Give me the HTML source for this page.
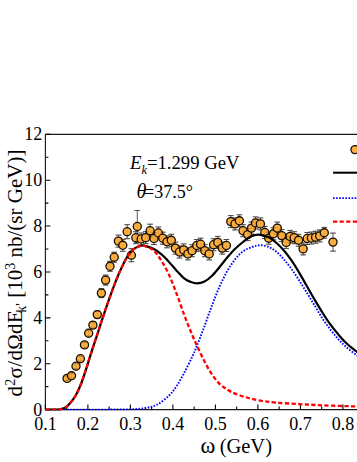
<!DOCTYPE html>
<html><head><meta charset="utf-8"><title>chart</title>
<style>
html,body{margin:0;padding:0;background:#fff;}
body{width:357px;height:462px;overflow:hidden;font-family:"Liberation Serif",serif;}
svg{display:block;}
</style></head><body>
<svg width="357" height="462" viewBox="0 0 357 462">
<rect width="357" height="462" fill="#fff"/>
<path d="M45.4,134.3 V409.6 H357" fill="none" stroke="#1a1a1a" stroke-width="1.15"/>
<path d="M45.4,134.3 H357" fill="none" stroke="#1a1a1a" stroke-width="1.15"/>
<path d="M45.40,409.6 v-5 M66.65,409.6 v-3 M87.90,409.6 v-5 M109.15,409.6 v-3 M130.40,409.6 v-5 M151.65,409.6 v-3 M172.90,409.6 v-5 M194.15,409.6 v-3 M215.40,409.6 v-5 M236.65,409.6 v-3 M257.90,409.6 v-5 M279.15,409.6 v-3 M300.40,409.6 v-5 M321.65,409.6 v-3 M342.90,409.6 v-5 M45.4,409.60 h5 M45.4,386.66 h3 M45.4,363.72 h5 M45.4,340.78 h3 M45.4,317.83 h5 M45.4,294.89 h3 M45.4,271.95 h5 M45.4,249.01 h3 M45.4,226.07 h5 M45.4,203.13 h3 M45.4,180.18 h5 M45.4,157.24 h3 M45.4,134.30 h5" stroke="#000" stroke-width="1.1" fill="none"/>
<path d="M67.1,376.2 V380.6 M64.3,376.2 h5.6 M64.3,380.6 h5.6 M71.5,373.6 V378.0 M68.7,373.6 h5.6 M68.7,378.0 h5.6 M76.0,363.8 V368.6 M73.2,363.8 h5.6 M73.2,368.6 h5.6 M80.4,356.3 V361.1 M77.6,356.3 h5.6 M77.6,361.1 h5.6 M84.5,342.3 V347.5 M81.7,342.3 h5.6 M81.7,347.5 h5.6 M88.7,330.4 V336.0 M85.9,330.4 h5.6 M85.9,336.0 h5.6 M92.9,322.1 V328.1 M90.1,322.1 h5.6 M90.1,328.1 h5.6 M97.3,311.1 V318.1 M94.5,311.1 h5.6 M94.5,318.1 h5.6 M101.4,288.6 V297.6 M98.6,288.6 h5.6 M98.6,297.6 h5.6 M105.6,275.1 V285.1 M102.8,275.1 h5.6 M102.8,285.1 h5.6 M110.0,261.3 V271.3 M107.2,261.3 h5.6 M107.2,271.3 h5.6 M114.2,252.2 V262.2 M111.4,252.2 h5.6 M111.4,262.2 h5.6 M118.4,235.1 V247.1 M115.6,235.1 h5.6 M115.6,247.1 h5.6 M122.8,239.3 V251.3 M120.0,239.3 h5.6 M120.0,251.3 h5.6 M127.2,224.7 V238.7 M124.4,224.7 h5.6 M124.4,238.7 h5.6 M131.4,248.7 V261.7 M128.6,248.7 h5.6 M128.6,261.7 h5.6 M135.8,231.7 V243.7 M133.0,231.7 h5.6 M133.0,243.7 h5.6 M137.3,210.5 V242.5 M134.5,210.5 h5.6 M134.5,242.5 h5.6 M141.2,233.0 V245.0 M138.4,233.0 h5.6 M138.4,245.0 h5.6 M145.7,231.7 V243.7 M142.9,231.7 h5.6 M142.9,243.7 h5.6 M150.1,224.2 V237.2 M147.3,224.2 h5.6 M147.3,237.2 h5.6 M154.0,232.5 V244.5 M151.2,232.5 h5.6 M151.2,244.5 h5.6 M158.4,227.0 V239.0 M155.6,227.0 h5.6 M155.6,239.0 h5.6 M162.8,232.2 V244.2 M160.0,232.2 h5.6 M160.0,244.2 h5.6 M167.0,235.8 V247.8 M164.2,235.8 h5.6 M164.2,247.8 h5.6 M171.3,234.3 V246.3 M168.5,234.3 h5.6 M168.5,246.3 h5.6 M175.4,242.1 V254.1 M172.6,242.1 h5.6 M172.6,254.1 h5.6 M179.5,246.0 V258.0 M176.7,246.0 h5.6 M176.7,258.0 h5.6 M183.7,243.9 V255.9 M180.9,243.9 h5.6 M180.9,255.9 h5.6 M187.9,247.9 V259.9 M185.1,247.9 h5.6 M185.1,259.9 h5.6 M192.1,244.7 V256.7 M189.3,244.7 h5.6 M189.3,256.7 h5.6 M196.7,239.5 V251.5 M193.9,239.5 h5.6 M193.9,251.5 h5.6 M200.6,238.2 V250.2 M197.8,238.2 h5.6 M197.8,250.2 h5.6 M204.8,244.7 V256.7 M202.0,244.7 h5.6 M202.0,256.7 h5.6 M209.2,247.9 V259.9 M206.4,247.9 h5.6 M206.4,259.9 h5.6 M213.6,238.7 V250.7 M210.8,238.7 h5.6 M210.8,250.7 h5.6 M217.8,236.4 V248.4 M215.0,236.4 h5.6 M215.0,248.4 h5.6 M222.2,242.1 V254.1 M219.4,242.1 h5.6 M219.4,254.1 h5.6 M226.4,239.5 V251.5 M223.6,239.5 h5.6 M223.6,251.5 h5.6 M230.8,215.6 V227.6 M228.0,215.6 h5.6 M228.0,227.6 h5.6 M235.0,217.9 V229.9 M232.2,217.9 h5.6 M232.2,229.9 h5.6 M239.4,214.8 V226.8 M236.6,214.8 h5.6 M236.6,226.8 h5.6 M243.0,224.7 V236.7 M240.2,224.7 h5.6 M240.2,236.7 h5.6 M247.7,228.6 V240.6 M244.9,228.6 h5.6 M244.9,240.6 h5.6 M251.5,222.1 V234.1 M248.7,222.1 h5.6 M248.7,234.1 h5.6 M255.6,216.9 V228.9 M252.8,216.9 h5.6 M252.8,228.9 h5.6 M260.4,217.9 V229.9 M257.6,217.9 h5.6 M257.6,229.9 h5.6 M264.8,226.5 V238.5 M262.0,226.5 h5.6 M262.0,238.5 h5.6 M268.7,232.2 V244.2 M265.9,232.2 h5.6 M265.9,244.2 h5.6 M273.4,227.8 V239.8 M270.6,227.8 h5.6 M270.6,239.8 h5.6 M277.3,222.1 V234.1 M274.5,222.1 h5.6 M274.5,234.1 h5.6 M281.7,229.6 V241.6 M278.9,229.6 h5.6 M278.9,241.6 h5.6 M286.2,236.4 V248.4 M283.4,236.4 h5.6 M283.4,248.4 h5.6 M290.1,230.4 V242.4 M287.3,230.4 h5.6 M287.3,242.4 h5.6 M294.2,231.7 V243.7 M291.4,231.7 h5.6 M291.4,243.7 h5.6 M298.6,234.3 V246.3 M295.8,234.3 h5.6 M295.8,246.3 h5.6 M303.1,242.9 V254.9 M300.3,242.9 h5.6 M300.3,254.9 h5.6 M307.2,232.5 V244.5 M304.4,232.5 h5.6 M304.4,244.5 h5.6 M311.4,232.0 V244.0 M308.6,232.0 h5.6 M308.6,244.0 h5.6 M315.6,231.2 V243.2 M312.8,231.2 h5.6 M312.8,243.2 h5.6 M319.7,229.9 V241.9 M316.9,229.9 h5.6 M316.9,241.9 h5.6 M324.3,227.4 V238.2 M321.5,227.4 h5.6 M321.5,238.2 h5.6 M333.0,233.1 V251.1 M330.2,233.1 h5.6 M330.2,251.1 h5.6" stroke="#222" stroke-width="0.7" fill="none"/>
<circle cx="67.1" cy="378.4" r="4.05" fill="#fbb040" stroke="#150c00" stroke-width="1.3"/>
<circle cx="71.5" cy="375.8" r="4.05" fill="#fbb040" stroke="#150c00" stroke-width="1.3"/>
<circle cx="76.0" cy="366.2" r="4.05" fill="#fbb040" stroke="#150c00" stroke-width="1.3"/>
<circle cx="80.4" cy="358.7" r="4.05" fill="#fbb040" stroke="#150c00" stroke-width="1.3"/>
<circle cx="84.5" cy="344.9" r="4.05" fill="#fbb040" stroke="#150c00" stroke-width="1.3"/>
<circle cx="88.7" cy="333.2" r="4.05" fill="#fbb040" stroke="#150c00" stroke-width="1.3"/>
<circle cx="92.9" cy="325.1" r="4.05" fill="#fbb040" stroke="#150c00" stroke-width="1.3"/>
<circle cx="97.3" cy="314.6" r="4.05" fill="#fbb040" stroke="#150c00" stroke-width="1.3"/>
<circle cx="101.4" cy="293.1" r="4.05" fill="#fbb040" stroke="#150c00" stroke-width="1.3"/>
<circle cx="105.6" cy="280.1" r="4.05" fill="#fbb040" stroke="#150c00" stroke-width="1.3"/>
<circle cx="110.0" cy="266.3" r="4.05" fill="#fbb040" stroke="#150c00" stroke-width="1.3"/>
<circle cx="114.2" cy="257.2" r="4.05" fill="#fbb040" stroke="#150c00" stroke-width="1.3"/>
<circle cx="118.4" cy="241.1" r="4.05" fill="#fbb040" stroke="#150c00" stroke-width="1.3"/>
<circle cx="122.8" cy="245.3" r="4.05" fill="#fbb040" stroke="#150c00" stroke-width="1.3"/>
<circle cx="127.2" cy="231.7" r="4.05" fill="#fbb040" stroke="#150c00" stroke-width="1.3"/>
<circle cx="131.4" cy="255.2" r="4.05" fill="#fbb040" stroke="#150c00" stroke-width="1.3"/>
<circle cx="135.8" cy="237.7" r="4.05" fill="#fbb040" stroke="#150c00" stroke-width="1.3"/>
<circle cx="137.3" cy="226.5" r="4.05" fill="#fbb040" stroke="#150c00" stroke-width="1.3"/>
<circle cx="141.2" cy="239.0" r="4.05" fill="#fbb040" stroke="#150c00" stroke-width="1.3"/>
<circle cx="145.7" cy="237.7" r="4.05" fill="#fbb040" stroke="#150c00" stroke-width="1.3"/>
<circle cx="150.1" cy="230.7" r="4.05" fill="#fbb040" stroke="#150c00" stroke-width="1.3"/>
<circle cx="154.0" cy="238.5" r="4.05" fill="#fbb040" stroke="#150c00" stroke-width="1.3"/>
<circle cx="158.4" cy="233.0" r="4.05" fill="#fbb040" stroke="#150c00" stroke-width="1.3"/>
<circle cx="162.8" cy="238.2" r="4.05" fill="#fbb040" stroke="#150c00" stroke-width="1.3"/>
<circle cx="167.0" cy="241.8" r="4.05" fill="#fbb040" stroke="#150c00" stroke-width="1.3"/>
<circle cx="171.3" cy="240.3" r="4.05" fill="#fbb040" stroke="#150c00" stroke-width="1.3"/>
<circle cx="175.4" cy="248.1" r="4.05" fill="#fbb040" stroke="#150c00" stroke-width="1.3"/>
<circle cx="179.5" cy="252.0" r="4.05" fill="#fbb040" stroke="#150c00" stroke-width="1.3"/>
<circle cx="183.7" cy="249.9" r="4.05" fill="#fbb040" stroke="#150c00" stroke-width="1.3"/>
<circle cx="187.9" cy="253.9" r="4.05" fill="#fbb040" stroke="#150c00" stroke-width="1.3"/>
<circle cx="192.1" cy="250.7" r="4.05" fill="#fbb040" stroke="#150c00" stroke-width="1.3"/>
<circle cx="196.7" cy="245.5" r="4.05" fill="#fbb040" stroke="#150c00" stroke-width="1.3"/>
<circle cx="200.6" cy="244.2" r="4.05" fill="#fbb040" stroke="#150c00" stroke-width="1.3"/>
<circle cx="204.8" cy="250.7" r="4.05" fill="#fbb040" stroke="#150c00" stroke-width="1.3"/>
<circle cx="209.2" cy="253.9" r="4.05" fill="#fbb040" stroke="#150c00" stroke-width="1.3"/>
<circle cx="213.6" cy="244.7" r="4.05" fill="#fbb040" stroke="#150c00" stroke-width="1.3"/>
<circle cx="217.8" cy="242.4" r="4.05" fill="#fbb040" stroke="#150c00" stroke-width="1.3"/>
<circle cx="222.2" cy="248.1" r="4.05" fill="#fbb040" stroke="#150c00" stroke-width="1.3"/>
<circle cx="226.4" cy="245.5" r="4.05" fill="#fbb040" stroke="#150c00" stroke-width="1.3"/>
<circle cx="230.8" cy="221.6" r="4.05" fill="#fbb040" stroke="#150c00" stroke-width="1.3"/>
<circle cx="235.0" cy="223.9" r="4.05" fill="#fbb040" stroke="#150c00" stroke-width="1.3"/>
<circle cx="239.4" cy="220.8" r="4.05" fill="#fbb040" stroke="#150c00" stroke-width="1.3"/>
<circle cx="243.0" cy="230.7" r="4.05" fill="#fbb040" stroke="#150c00" stroke-width="1.3"/>
<circle cx="247.7" cy="234.6" r="4.05" fill="#fbb040" stroke="#150c00" stroke-width="1.3"/>
<circle cx="251.5" cy="228.1" r="4.05" fill="#fbb040" stroke="#150c00" stroke-width="1.3"/>
<circle cx="255.6" cy="222.9" r="4.05" fill="#fbb040" stroke="#150c00" stroke-width="1.3"/>
<circle cx="260.4" cy="223.9" r="4.05" fill="#fbb040" stroke="#150c00" stroke-width="1.3"/>
<circle cx="264.8" cy="232.5" r="4.05" fill="#fbb040" stroke="#150c00" stroke-width="1.3"/>
<circle cx="268.7" cy="238.2" r="4.05" fill="#fbb040" stroke="#150c00" stroke-width="1.3"/>
<circle cx="273.4" cy="233.8" r="4.05" fill="#fbb040" stroke="#150c00" stroke-width="1.3"/>
<circle cx="277.3" cy="228.1" r="4.05" fill="#fbb040" stroke="#150c00" stroke-width="1.3"/>
<circle cx="281.7" cy="235.6" r="4.05" fill="#fbb040" stroke="#150c00" stroke-width="1.3"/>
<circle cx="286.2" cy="242.4" r="4.05" fill="#fbb040" stroke="#150c00" stroke-width="1.3"/>
<circle cx="290.1" cy="236.4" r="4.05" fill="#fbb040" stroke="#150c00" stroke-width="1.3"/>
<circle cx="294.2" cy="237.7" r="4.05" fill="#fbb040" stroke="#150c00" stroke-width="1.3"/>
<circle cx="298.6" cy="240.3" r="4.05" fill="#fbb040" stroke="#150c00" stroke-width="1.3"/>
<circle cx="303.1" cy="248.9" r="4.05" fill="#fbb040" stroke="#150c00" stroke-width="1.3"/>
<circle cx="307.2" cy="238.5" r="4.05" fill="#fbb040" stroke="#150c00" stroke-width="1.3"/>
<circle cx="311.4" cy="238.0" r="4.05" fill="#fbb040" stroke="#150c00" stroke-width="1.3"/>
<circle cx="315.6" cy="237.2" r="4.05" fill="#fbb040" stroke="#150c00" stroke-width="1.3"/>
<circle cx="319.7" cy="235.9" r="4.05" fill="#fbb040" stroke="#150c00" stroke-width="1.3"/>
<circle cx="324.3" cy="232.8" r="4.05" fill="#fbb040" stroke="#150c00" stroke-width="1.3"/>
<circle cx="333.0" cy="242.1" r="4.05" fill="#fbb040" stroke="#150c00" stroke-width="1.3"/>
<path d="M64.3,376.2 h5.6 M64.3,380.6 h5.6 M68.7,373.6 h5.6 M68.7,378.0 h5.6 M73.2,363.8 h5.6 M73.2,368.6 h5.6 M77.6,356.3 h5.6 M77.6,361.1 h5.6 M81.7,342.3 h5.6 M81.7,347.5 h5.6 M85.9,330.4 h5.6 M85.9,336.0 h5.6 M90.1,322.1 h5.6 M90.1,328.1 h5.6 M94.5,311.1 h5.6 M94.5,318.1 h5.6 M98.6,288.6 h5.6 M98.6,297.6 h5.6 M102.8,275.1 h5.6 M102.8,285.1 h5.6 M107.2,261.3 h5.6 M107.2,271.3 h5.6 M111.4,252.2 h5.6 M111.4,262.2 h5.6 M115.6,235.1 h5.6 M115.6,247.1 h5.6 M120.0,239.3 h5.6 M120.0,251.3 h5.6 M124.4,224.7 h5.6 M124.4,238.7 h5.6 M128.6,248.7 h5.6 M128.6,261.7 h5.6 M133.0,231.7 h5.6 M133.0,243.7 h5.6 M134.5,210.5 h5.6 M134.5,242.5 h5.6 M138.4,233.0 h5.6 M138.4,245.0 h5.6 M142.9,231.7 h5.6 M142.9,243.7 h5.6 M147.3,224.2 h5.6 M147.3,237.2 h5.6 M151.2,232.5 h5.6 M151.2,244.5 h5.6 M155.6,227.0 h5.6 M155.6,239.0 h5.6 M160.0,232.2 h5.6 M160.0,244.2 h5.6 M164.2,235.8 h5.6 M164.2,247.8 h5.6 M168.5,234.3 h5.6 M168.5,246.3 h5.6 M172.6,242.1 h5.6 M172.6,254.1 h5.6 M176.7,246.0 h5.6 M176.7,258.0 h5.6 M180.9,243.9 h5.6 M180.9,255.9 h5.6 M185.1,247.9 h5.6 M185.1,259.9 h5.6 M189.3,244.7 h5.6 M189.3,256.7 h5.6 M193.9,239.5 h5.6 M193.9,251.5 h5.6 M197.8,238.2 h5.6 M197.8,250.2 h5.6 M202.0,244.7 h5.6 M202.0,256.7 h5.6 M206.4,247.9 h5.6 M206.4,259.9 h5.6 M210.8,238.7 h5.6 M210.8,250.7 h5.6 M215.0,236.4 h5.6 M215.0,248.4 h5.6 M219.4,242.1 h5.6 M219.4,254.1 h5.6 M223.6,239.5 h5.6 M223.6,251.5 h5.6 M228.0,215.6 h5.6 M228.0,227.6 h5.6 M232.2,217.9 h5.6 M232.2,229.9 h5.6 M236.6,214.8 h5.6 M236.6,226.8 h5.6 M240.2,224.7 h5.6 M240.2,236.7 h5.6 M244.9,228.6 h5.6 M244.9,240.6 h5.6 M248.7,222.1 h5.6 M248.7,234.1 h5.6 M252.8,216.9 h5.6 M252.8,228.9 h5.6 M257.6,217.9 h5.6 M257.6,229.9 h5.6 M262.0,226.5 h5.6 M262.0,238.5 h5.6 M265.9,232.2 h5.6 M265.9,244.2 h5.6 M270.6,227.8 h5.6 M270.6,239.8 h5.6 M274.5,222.1 h5.6 M274.5,234.1 h5.6 M278.9,229.6 h5.6 M278.9,241.6 h5.6 M283.4,236.4 h5.6 M283.4,248.4 h5.6 M287.3,230.4 h5.6 M287.3,242.4 h5.6 M291.4,231.7 h5.6 M291.4,243.7 h5.6 M295.8,234.3 h5.6 M295.8,246.3 h5.6 M300.3,242.9 h5.6 M300.3,254.9 h5.6 M304.4,232.5 h5.6 M304.4,244.5 h5.6 M308.6,232.0 h5.6 M308.6,244.0 h5.6 M312.8,231.2 h5.6 M312.8,243.2 h5.6 M316.9,229.9 h5.6 M316.9,241.9 h5.6 M321.5,227.4 h5.6 M321.5,238.2 h5.6 M330.2,233.1 h5.6 M330.2,251.1 h5.6" stroke="#3a2000" stroke-width="0.6" stroke-opacity="0.55" fill="none"/>
<path d="M67.1,376.2 V380.6 M71.5,373.6 V378.0 M76.0,363.8 V368.6 M80.4,356.3 V361.1 M84.5,342.3 V347.5 M88.7,330.4 V336.0 M92.9,322.1 V328.1 M97.3,311.1 V318.1 M101.4,288.6 V297.6 M105.6,275.1 V285.1 M110.0,261.3 V271.3 M114.2,252.2 V262.2 M118.4,235.1 V247.1 M122.8,239.3 V251.3 M127.2,224.7 V238.7 M131.4,248.7 V261.7 M135.8,231.7 V243.7 M137.3,210.5 V242.5 M141.2,233.0 V245.0 M145.7,231.7 V243.7 M150.1,224.2 V237.2 M154.0,232.5 V244.5 M158.4,227.0 V239.0 M162.8,232.2 V244.2 M167.0,235.8 V247.8 M171.3,234.3 V246.3 M175.4,242.1 V254.1 M179.5,246.0 V258.0 M183.7,243.9 V255.9 M187.9,247.9 V259.9 M192.1,244.7 V256.7 M196.7,239.5 V251.5 M200.6,238.2 V250.2 M204.8,244.7 V256.7 M209.2,247.9 V259.9 M213.6,238.7 V250.7 M217.8,236.4 V248.4 M222.2,242.1 V254.1 M226.4,239.5 V251.5 M230.8,215.6 V227.6 M235.0,217.9 V229.9 M239.4,214.8 V226.8 M243.0,224.7 V236.7 M247.7,228.6 V240.6 M251.5,222.1 V234.1 M255.6,216.9 V228.9 M260.4,217.9 V229.9 M264.8,226.5 V238.5 M268.7,232.2 V244.2 M273.4,227.8 V239.8 M277.3,222.1 V234.1 M281.7,229.6 V241.6 M286.2,236.4 V248.4 M290.1,230.4 V242.4 M294.2,231.7 V243.7 M298.6,234.3 V246.3 M303.1,242.9 V254.9 M307.2,232.5 V244.5 M311.4,232.0 V244.0 M315.6,231.2 V243.2 M319.7,229.9 V241.9 M324.3,227.4 V238.2 M333.0,233.1 V251.1" stroke="#3a2000" stroke-width="0.5" stroke-opacity="0.18" fill="none"/>
<defs><clipPath id="cp"><rect x="44.8" y="133.6" width="320" height="276.8"/></clipPath></defs><g clip-path="url(#cp)">
<path d="M45.40,409.60 C54.50,409.60 85.90,409.65 100.00,409.60 C114.10,409.55 122.40,409.57 130.00,409.30 C137.60,409.03 141.05,408.80 145.60,408.00 C150.15,407.20 153.40,406.57 157.30,404.50 C161.20,402.43 165.75,398.72 169.00,395.60 C172.25,392.48 174.22,389.70 176.80,385.80 C179.38,381.90 181.92,377.07 184.50,372.20 C187.08,367.33 190.22,361.02 192.30,356.60 C194.38,352.18 195.05,350.57 197.00,345.70 C198.95,340.83 201.53,334.02 204.00,327.40 C206.47,320.78 209.20,312.82 211.80,306.00 C214.40,299.18 217.00,292.35 219.60,286.50 C222.20,280.65 224.80,275.45 227.40,270.90 C230.00,266.35 232.60,262.45 235.20,259.20 C237.80,255.95 240.10,253.47 243.00,251.40 C245.90,249.33 249.70,247.83 252.60,246.80 C255.50,245.77 257.80,245.20 260.40,245.20 C263.00,245.20 265.60,245.77 268.20,246.80 C270.80,247.83 273.42,249.33 276.00,251.40 C278.58,253.47 281.12,256.27 283.70,259.20 C286.28,262.13 288.90,265.43 291.50,269.00 C294.10,272.57 296.70,276.58 299.30,280.60 C301.90,284.62 304.50,288.87 307.10,293.10 C309.70,297.33 312.30,301.72 314.90,306.00 C317.50,310.28 320.10,314.85 322.70,318.80 C325.30,322.75 327.90,326.32 330.50,329.70 C333.10,333.08 335.70,336.23 338.30,339.10 C340.90,341.97 342.98,344.18 346.10,346.90 C349.22,349.62 353.85,353.05 357.00,355.40 C360.15,357.75 363.67,360.07 365.00,361.00" fill="none" stroke="#0000ff" stroke-width="1.9" stroke-dasharray="1.6 1.5"/>
<path d="M45.40,409.60 C47.00,409.60 52.53,409.65 55.00,409.60 C57.47,409.55 58.45,409.67 60.20,409.30 C61.95,408.93 63.78,408.48 65.50,407.40 C67.22,406.32 68.78,404.82 70.50,402.80 C72.22,400.78 74.05,398.43 75.80,395.30 C77.55,392.17 79.27,388.42 81.00,384.00 C82.73,379.58 84.62,373.62 86.20,368.80 C87.78,363.98 89.03,359.68 90.50,355.10 C91.97,350.52 93.70,345.23 95.00,341.30 C96.30,337.37 97.27,334.67 98.30,331.50 C99.33,328.33 99.80,326.53 101.20,322.30 C102.60,318.07 104.88,311.33 106.70,306.10 C108.52,300.87 110.30,295.78 112.10,290.90 C113.90,286.02 115.70,281.13 117.50,276.80 C119.30,272.47 121.10,268.50 122.90,264.90 C124.70,261.30 126.50,257.83 128.30,255.20 C130.10,252.57 131.90,250.58 133.70,249.10 C135.50,247.62 137.47,246.88 139.10,246.30 C140.73,245.72 141.12,245.20 143.50,245.60 C145.88,246.00 150.45,247.27 153.40,248.70 C156.35,250.13 158.60,252.00 161.20,254.20 C163.80,256.40 166.40,259.12 169.00,261.90 C171.60,264.68 174.22,268.10 176.80,270.90 C179.38,273.70 182.23,276.88 184.50,278.70 C186.77,280.52 188.32,281.02 190.40,281.80 C192.48,282.58 194.73,283.40 197.00,283.40 C199.27,283.40 201.53,283.03 204.00,281.80 C206.47,280.57 209.20,278.47 211.80,276.00 C214.40,273.53 217.00,270.12 219.60,267.00 C222.20,263.88 224.80,260.35 227.40,257.30 C230.00,254.25 232.60,251.25 235.20,248.70 C237.80,246.15 240.43,244.02 243.00,242.00 C245.57,239.98 248.03,237.83 250.60,236.60 C253.17,235.37 255.47,234.53 258.40,234.60 C261.33,234.67 265.27,235.68 268.20,237.00 C271.13,238.32 273.42,240.28 276.00,242.50 C278.58,244.72 281.12,247.32 283.70,250.30 C286.28,253.28 288.90,256.63 291.50,260.40 C294.10,264.17 296.70,268.55 299.30,272.90 C301.90,277.25 304.50,281.97 307.10,286.50 C309.70,291.03 312.30,295.68 314.90,300.10 C317.50,304.52 320.10,308.90 322.70,313.00 C325.30,317.10 327.90,321.13 330.50,324.70 C333.10,328.27 335.70,331.35 338.30,334.40 C340.90,337.45 342.98,340.08 346.10,343.00 C349.22,345.92 353.85,349.40 357.00,351.90 C360.15,354.40 363.67,356.98 365.00,358.00" fill="none" stroke="#000" stroke-width="2.2"/>
<path d="M45.40,409.60 C47.00,409.60 52.53,409.65 55.00,409.60 C57.47,409.55 58.45,409.67 60.20,409.30 C61.95,408.93 63.78,408.48 65.50,407.40 C67.22,406.32 68.78,404.82 70.50,402.80 C72.22,400.78 74.05,398.43 75.80,395.30 C77.55,392.17 79.27,388.42 81.00,384.00 C82.73,379.58 84.62,373.62 86.20,368.80 C87.78,363.98 89.03,359.68 90.50,355.10 C91.97,350.52 93.70,345.23 95.00,341.30 C96.30,337.37 97.27,334.67 98.30,331.50 C99.33,328.33 99.80,326.53 101.20,322.30 C102.60,318.07 104.88,311.33 106.70,306.10 C108.52,300.87 110.30,295.78 112.10,290.90 C113.90,286.02 115.70,281.13 117.50,276.80 C119.30,272.47 121.10,268.50 122.90,264.90 C124.70,261.30 126.50,257.83 128.30,255.20 C130.10,252.57 131.90,250.58 133.70,249.10 C135.50,247.62 137.47,246.88 139.10,246.30 C140.73,245.72 141.12,244.93 143.50,245.60 C145.88,246.27 150.45,247.83 153.40,250.30 C156.35,252.77 158.60,256.32 161.20,260.40 C163.80,264.48 166.40,269.15 169.00,274.80 C171.60,280.45 174.22,287.48 176.80,294.30 C179.38,301.12 181.92,308.88 184.50,315.70 C187.08,322.52 190.22,330.20 192.30,335.20 C194.38,340.20 195.05,341.48 197.00,345.70 C198.95,349.92 201.53,355.77 204.00,360.50 C206.47,365.23 209.20,370.20 211.80,374.10 C214.40,378.00 217.00,381.30 219.60,383.90 C222.20,386.50 224.80,388.08 227.40,389.70 C230.00,391.32 231.95,392.30 235.20,393.60 C238.45,394.90 242.70,396.33 246.90,397.50 C251.10,398.67 255.55,399.75 260.40,400.60 C265.25,401.45 269.52,402.02 276.00,402.60 C282.48,403.18 291.52,403.65 299.30,404.10 C307.08,404.55 313.08,404.90 322.70,405.30 C332.32,405.70 349.95,406.27 357.00,406.50 C364.05,406.73 363.67,406.67 365.00,406.70" fill="none" stroke="#ff0000" stroke-width="2.3" stroke-dasharray="4.2 2.4"/>
</g>
<circle cx="355.0" cy="149.6" r="4.05" fill="#fbb040" stroke="#150c00" stroke-width="1.3"/>
<path d="M333.1,172.7 H357" stroke="#000" stroke-width="2.05"/>
<path d="M333,198.1 H357" stroke="#0000ff" stroke-width="1.9" stroke-dasharray="1.6 1.5"/>
<path d="M333,221.6 H357" stroke="#ff0000" stroke-width="2.3" stroke-dasharray="4.2 2.4"/>
<text x="45.4" y="429.6" font-family="Liberation Serif, serif" font-size="18" text-anchor="middle">0.1</text>
<text x="87.9" y="429.6" font-family="Liberation Serif, serif" font-size="18" text-anchor="middle">0.2</text>
<text x="130.4" y="429.6" font-family="Liberation Serif, serif" font-size="18" text-anchor="middle">0.3</text>
<text x="172.9" y="429.6" font-family="Liberation Serif, serif" font-size="18" text-anchor="middle">0.4</text>
<text x="215.4" y="429.6" font-family="Liberation Serif, serif" font-size="18" text-anchor="middle">0.5</text>
<text x="257.9" y="429.6" font-family="Liberation Serif, serif" font-size="18" text-anchor="middle">0.6</text>
<text x="300.4" y="429.6" font-family="Liberation Serif, serif" font-size="18" text-anchor="middle">0.7</text>
<text x="342.9" y="429.6" font-family="Liberation Serif, serif" font-size="18" text-anchor="middle">0.8</text>
<text x="42.2" y="415.5" font-family="Liberation Serif, serif" font-size="18" text-anchor="end">0</text>
<text x="42.2" y="369.6" font-family="Liberation Serif, serif" font-size="18" text-anchor="end">2</text>
<text x="42.2" y="323.7" font-family="Liberation Serif, serif" font-size="18" text-anchor="end">4</text>
<text x="42.2" y="277.9" font-family="Liberation Serif, serif" font-size="18" text-anchor="end">6</text>
<text x="42.2" y="232.0" font-family="Liberation Serif, serif" font-size="18" text-anchor="end">8</text>
<text x="42.2" y="186.1" font-family="Liberation Serif, serif" font-size="18" text-anchor="end">10</text>
<text x="42.2" y="140.2" font-family="Liberation Serif, serif" font-size="18" text-anchor="end">12</text>
<text x="200.5" y="453.1" font-family="Liberation Serif, serif" font-size="20.5"><tspan font-size="22.5">ω</tspan><tspan dx="-0.8"> (GeV)</tspan></text>
<g transform="translate(21.6,396.5) rotate(-90)" font-family="Liberation Serif, serif" font-size="21"><text x="0" y="0" letter-spacing="0.3">d<tspan dy="-7" font-size="14">2</tspan><tspan dy="7">σ/dΩdE</tspan></text><text x="83.8" y="4.5" font-size="14">k'</text><text x="93.5" y="0" font-size="21" xml:space="preserve"> [10<tspan dy="-7" font-size="14">3</tspan><tspan dy="7"> nb/(sr GeV)]</tspan></text></g>
<text x="130" y="169.2" font-family="Liberation Serif, serif" font-size="18.7"><tspan font-style="italic">E</tspan><tspan dy="4.4" font-size="12.3" font-style="italic">k</tspan><tspan dy="-4.4">=1.299 GeV</tspan></text>
<text x="136.5" y="198.1" font-family="Liberation Serif, serif" font-size="18"><tspan font-style="italic" font-size="20">θ</tspan><tspan x="144.1">=37.5°</tspan></text>
</svg>
</body></html>
